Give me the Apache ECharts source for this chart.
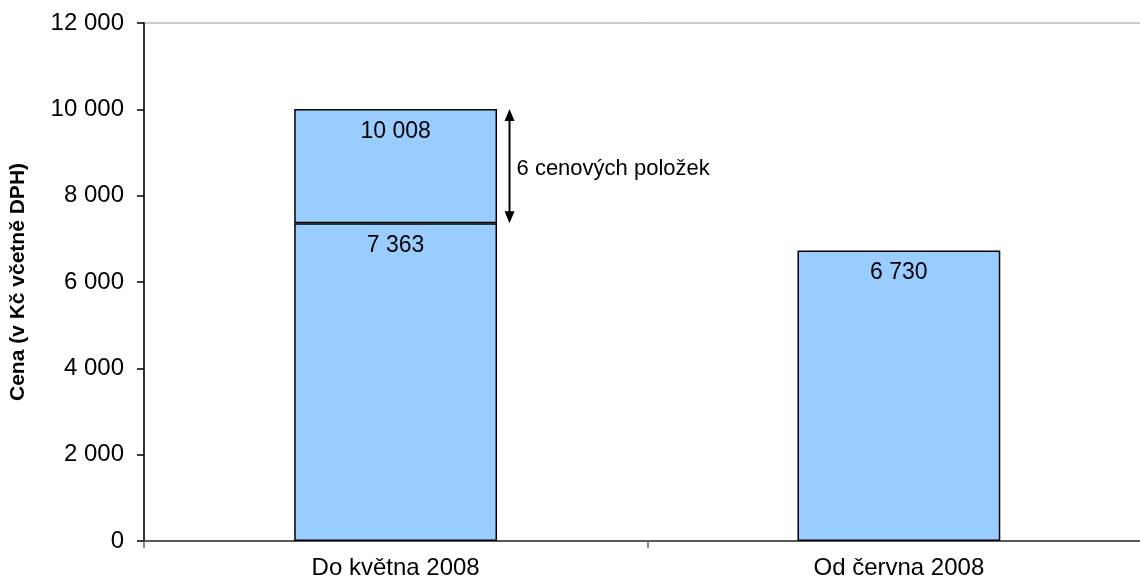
<!DOCTYPE html>
<html>
<head>
<meta charset="utf-8">
<script src="https://cdn.jsdelivr.net/npm/echarts@6/dist/echarts.min.js"></script>
<style>
html,body{margin:0;padding:0;background:#fff;overflow:hidden;width:1140px;height:584px;}
#chart{width:1160px;height:584px;}
</style>
</head>
<body>
<div id="chart"></div>
<script>
// ---- data ----
const categories = ['Do května 2008', 'Od června 2008'];
const baseValues = [7363, 6730];      // lower segment (price without the 6 items)
const totalValues = [10008, null];    // total including 6 price items
const yTicks = [0, 2000, 4000, 6000, 8000, 10000, 12000];
const annotationText = '6 cenových položek';
const yAxisTitle = 'Cena (v Kč včetně DPH)';

const upperValues = totalValues.map((t, i) => (t == null ? '-' : t - baseValues[i]));
const fmt = v => String(v).replace(/\B(?=(\d{3})+(?!\d))/g, ' ');
const FONT = '"Liberation Sans", Arial, sans-serif';
const BAR_FRACTION = 0.403;

const chart = echarts.init(document.getElementById('chart'), null, {renderer: 'canvas'});
chart.setOption({
  animation: false,
  backgroundColor: '#fff',
  textStyle: {fontFamily: FONT},
  grid: {left: 142.5, right: 9.5, top: 23, bottom: 43, show: true, borderColor: '#999', borderWidth: 1, backgroundColor: 'transparent'},
  xAxis: {
    type: 'category',
    data: categories,
    boundaryGap: true,
    axisLine: {show: true, lineStyle: {color: '#333', width: 1.5}},
    axisTick: {show: true, length: 7, alignWithLabel: false, lineStyle: {color: '#666', width: 1.5}},
    axisLabel: {fontSize: 24, color: '#000', margin: 15, fontFamily: FONT}
  },
  yAxis: {
    type: 'value',
    min: yTicks[0],
    max: yTicks[yTicks.length - 1],
    interval: yTicks[1] - yTicks[0],
    name: yAxisTitle,
    nameLocation: 'middle',
    nameGap: 115,
    nameTextStyle: {fontSize: 21, fontWeight: 'bold', color: '#000', fontFamily: FONT},
    axisLine: {show: true, lineStyle: {color: '#000', width: 1.5}},
    axisTick: {show: true, length: 7, inside: false, lineStyle: {color: '#000', width: 1.5}},
    splitLine: {show: false},
    axisLabel: {fontSize: 24, color: '#000', margin: 20, fontFamily: FONT, formatter: v => fmt(v)}
  },
  series: [
    {
      type: 'bar',
      stack: 'price',
      data: baseValues,
      barWidth: (BAR_FRACTION * 100) + '%',
      itemStyle: {color: '#99CCFF', borderColor: '#000', borderWidth: 1.5},
      label: {show: true, position: 'insideTop', distance: 11, fontSize: 23, color: '#000', fontFamily: FONT,
        formatter: p => fmt(p.value)}
    },
    {
      type: 'bar',
      stack: 'price',
      data: upperValues,
      barWidth: (BAR_FRACTION * 100) + '%',
      itemStyle: {color: '#99CCFF', borderColor: '#000', borderWidth: 1.5},
      label: {show: true, position: 'insideTop', distance: 11, fontSize: 23, color: '#000', fontFamily: FONT,
        formatter: p => fmt(totalValues[p.dataIndex])}
    },
    {
      type: 'custom',
      silent: true,
      z: 10,
      data: totalValues.map((t, i) => (t == null ? null : [i, baseValues[i], t])).filter(d => d),
      renderItem: function (params, api) {
        const idx = api.value(0);
        const top = api.coord([idx, api.value(2)]);
        const bot = api.coord([idx, api.value(1)]);
        const band = api.size([1, 0])[0];
        const x = top[0] + band * BAR_FRACTION / 2 + 12.5;
        const ah = 12, aw = 5;
        return {
          type: 'group',
          children: [
            {type: 'line', shape: {x1: x, y1: top[1] + ah - 2, x2: x, y2: bot[1] - ah + 2}, style: {stroke: '#000', lineWidth: 2}},
            {type: 'polygon', shape: {points: [[x, top[1]], [x - aw, top[1] + ah], [x + aw, top[1] + ah]]}, style: {fill: '#000'}},
            {type: 'polygon', shape: {points: [[x, bot[1]], [x - aw, bot[1] - ah], [x + aw, bot[1] - ah]]}, style: {fill: '#000'}},
            {type: 'text', x: x + 7, y: (top[1] + bot[1]) / 2 + 3,
              style: {text: annotationText, fontSize: 22, fill: '#000', fontFamily: FONT, verticalAlign: 'middle', align: 'left'}}
          ]
        };
      }
    }
  ]
});
</script>
</body>
</html>
